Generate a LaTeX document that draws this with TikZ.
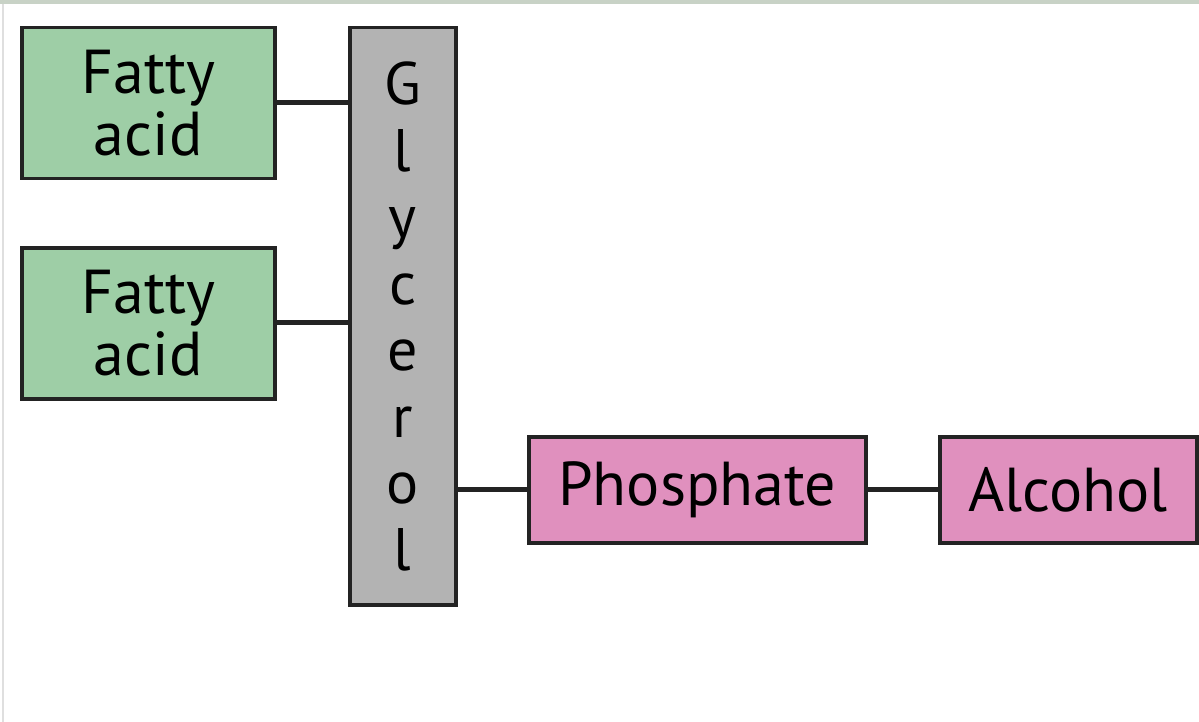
\documentclass[tikz,border=0pt]{standalone}
\usepackage{fontspec}
\setmainfont{PT Sans}
\definecolor{fagreen}{RGB}{158,206,166}
\definecolor{glygrey}{RGB}{179,179,179}
\definecolor{phpink}{RGB}{224,144,190}
\definecolor{edge}{RGB}{35,35,35}
\definecolor{topband}{RGB}{200,210,198}
\begin{document}
\begin{tikzpicture}[x=1pt,y=-1pt,
  box/.style={draw=edge,line width=3.5pt,inner sep=0pt,anchor=north west},
  link/.style={draw=edge,line width=5pt},
  big/.style={font=\fontsize{62}{64}\selectfont}]
\useasboundingbox (0,0) rectangle (1199,722);
\fill[white] (0,0) rectangle (1199,722);
\fill[topband] (0,0) rectangle (1199,4);
\fill[gray!25] (2,4) rectangle (4,722);
\node[box,fill=fagreen,minimum width=253pt,minimum height=151pt,align=center,big] (fa1) at (20,26) {Fatty\\[-2pt]acid};
\node[box,fill=fagreen,minimum width=253pt,minimum height=151pt,align=center,big] (fa2) at (20,246) {Fatty\\[-2pt]acid};
\node[box,fill=glygrey,minimum width=106pt,minimum height=577pt,align=center,font=\fontsize{60}{66.5}\selectfont] (gly) at (348,26) {G\\l\\y\\c\\e\\r\\o\\l};
\node[box,fill=phpink,minimum width=337pt,minimum height=106pt,big] (ph) at (527,435) {Phosphate};
\node[box,fill=phpink,minimum width=257pt,minimum height=106pt,big] (al) at (938,435) {Alcohol};
\draw[link] ([yshift=1pt]fa1.east) -- ([yshift=1pt]fa1.east -| gly.west);
\draw[link] ([yshift=1pt]fa2.east) -- ([yshift=1pt]fa2.east -| gly.west);
\draw[link] (ph.west -| gly.east) -- (ph.west);
\draw[link] (ph.east) -- (al.west);
\end{tikzpicture}
\end{document}
